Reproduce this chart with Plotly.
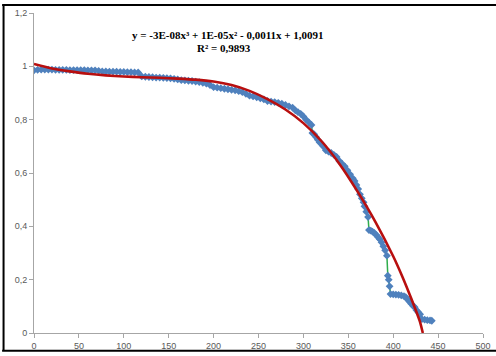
import plotly.graph_objects as go

# Observed data (blue markers joined by a green line)
obs_x = [0, 4, 8, 12, 16, 20, 24, 28, 32, 36, 40, 44, 48, 52, 56, 60, 64, 68, 72,
         76, 80, 84, 88, 92, 96, 100, 104, 108, 112, 116,
         120, 124, 128, 132, 136, 140, 144, 148, 152, 156, 160,
         164, 168, 172, 176, 180, 184, 188, 192, 196,
         200, 204, 208, 212, 216, 220, 224, 228, 232, 236,
         240, 244, 248, 252, 256,
         260, 264, 268, 272, 276, 280, 284, 288,
         291, 294, 297, 300, 303, 306, 309,
         310, 312, 314, 316, 318, 320, 322,
         325, 328, 331, 334, 337,
         340, 343, 346, 349, 352,
         355, 357, 359, 361, 363, 365, 367,
         368, 370, 372,
         373, 375, 377, 379, 381, 383, 385,
         387, 389, 391, 393,
         394, 395, 396,
         397, 400, 403, 406, 409, 412, 414,
         416, 418, 420, 422, 424,
         426, 428, 430,
         432, 435, 438, 441, 443]
obs_y = [0.985, 0.987, 0.988, 0.988, 0.988, 0.988, 0.987, 0.987, 0.987, 0.987, 0.986, 0.986, 0.986, 0.986, 0.986, 0.985, 0.985, 0.985, 0.983,
         0.981, 0.981, 0.980, 0.980, 0.980, 0.979, 0.979, 0.978, 0.978, 0.977, 0.977,
         0.962, 0.961, 0.960, 0.959, 0.958, 0.958, 0.957, 0.956, 0.955, 0.953, 0.951,
         0.948, 0.947, 0.946, 0.945, 0.943, 0.941, 0.938, 0.935, 0.930,
         0.922, 0.920, 0.918, 0.916, 0.914, 0.912, 0.910, 0.907, 0.903, 0.897,
         0.890, 0.887, 0.884, 0.880, 0.876,
         0.870, 0.868, 0.866, 0.863, 0.860, 0.855, 0.850, 0.845,
         0.835, 0.828, 0.822, 0.812, 0.800, 0.790, 0.780,
         0.750, 0.745, 0.735, 0.725, 0.715, 0.710, 0.700,
         0.685, 0.680, 0.675, 0.668, 0.660,
         0.645, 0.635, 0.625, 0.610, 0.595,
         0.580, 0.570, 0.555, 0.540, 0.520, 0.505, 0.490,
         0.475, 0.455, 0.435,
         0.386, 0.384, 0.380, 0.375, 0.368, 0.360, 0.352,
         0.340, 0.325, 0.310, 0.290,
         0.215, 0.200, 0.175,
         0.146, 0.145, 0.144, 0.143, 0.141, 0.138, 0.134,
         0.126, 0.118, 0.110, 0.102, 0.097,
         0.085, 0.078, 0.070,
         0.052, 0.050, 0.048, 0.047, 0.046]

# Polynomial trendline
trend_x = [0, 20, 40, 60, 80, 100, 120, 140, 160, 180, 200, 220, 240, 260, 280, 300,
           320, 340, 360, 380, 400, 410, 420, 430, 433]
trend_y = [1.009, 0.992, 0.981, 0.972, 0.966, 0.962, 0.959, 0.957, 0.954, 0.950, 0.943, 0.930,
           0.908, 0.877, 0.838, 0.787, 0.720, 0.635, 0.532, 0.418, 0.288, 0.213, 0.130, 0.040, 0.0]

x_ticks = [0, 50, 100, 150, 200, 250, 300, 350, 400, 450, 500]
y_ticks = [0, 0.2, 0.4, 0.6, 0.8, 1.0, 1.2]

eq_line1 = "y = -3E-08x³ + 1E-05x² - 0,0011x + 1,0091"
eq_line2 = "R² = 0,9893"

fig = go.Figure()
fig.add_trace(go.Scatter(
    x=obs_x, y=obs_y, mode="lines+markers",
    line=dict(color="#2EAD4B", width=1.5),
    marker=dict(symbol="diamond", size=6, color="#4F81BD", line=dict(width=0)),
    showlegend=False,
))
fig.add_trace(go.Scatter(
    x=trend_x, y=trend_y, mode="lines",
    line=dict(color="#B80F0F", width=2.6, shape="spline", smoothing=0.5),
    showlegend=False,
))

axis_col = "#A6A6A6"
tick_font = dict(family="Liberation Sans, Arial, sans-serif", size=9, color="#595959")

border = dict(color="black", width=2)
fig.update_layout(
    width=496, height=356,
    margin=dict(l=34, r=5, t=13, b=20),
    paper_bgcolor="white", plot_bgcolor="white",
    separators=", ",
    xaxis=dict(range=[0, 500], tickvals=x_ticks, showgrid=False, zeroline=False,
               showline=True, linecolor=axis_col, linewidth=1,
               ticks="outside", ticklen=4, tickcolor=axis_col, tickfont=tick_font,
               ticklabeloverflow="allow"),
    yaxis=dict(range=[0, 1.2], tickvals=y_ticks, showgrid=False, zeroline=False,
               showline=True, linecolor=axis_col, linewidth=1,
               ticks="outside", ticklen=4, tickcolor=axis_col, tickfont=tick_font),
    annotations=[
        dict(x=216, y=1.118, xref="x", yref="y", text="<b>" + eq_line1 + "</b>",
             showarrow=False, font=dict(family="Liberation Serif, Times New Roman, serif", size=11, color="black")),
        dict(x=212, y=1.07, xref="x", yref="y", text="<b>" + eq_line2 + "</b>",
             showarrow=False, font=dict(family="Liberation Serif, Times New Roman, serif", size=11, color="black")),
    ],
    shapes=[
        dict(type="line", xref="paper", yref="paper", x0=-0.0678, x1=-0.0678, y0=-0.0557, y1=1.0248,
             line=border, layer="above"),
        dict(type="line", xref="paper", yref="paper", x0=-0.071, x1=1.1, y0=1.0248, y1=1.0248,
             line=border, layer="above"),
        dict(type="line", xref="paper", yref="paper", x0=-0.071, x1=1.1, y0=-0.0557, y1=-0.0557,
             line=border, layer="above"),
    ],
)

fig.write_html("out.html")
